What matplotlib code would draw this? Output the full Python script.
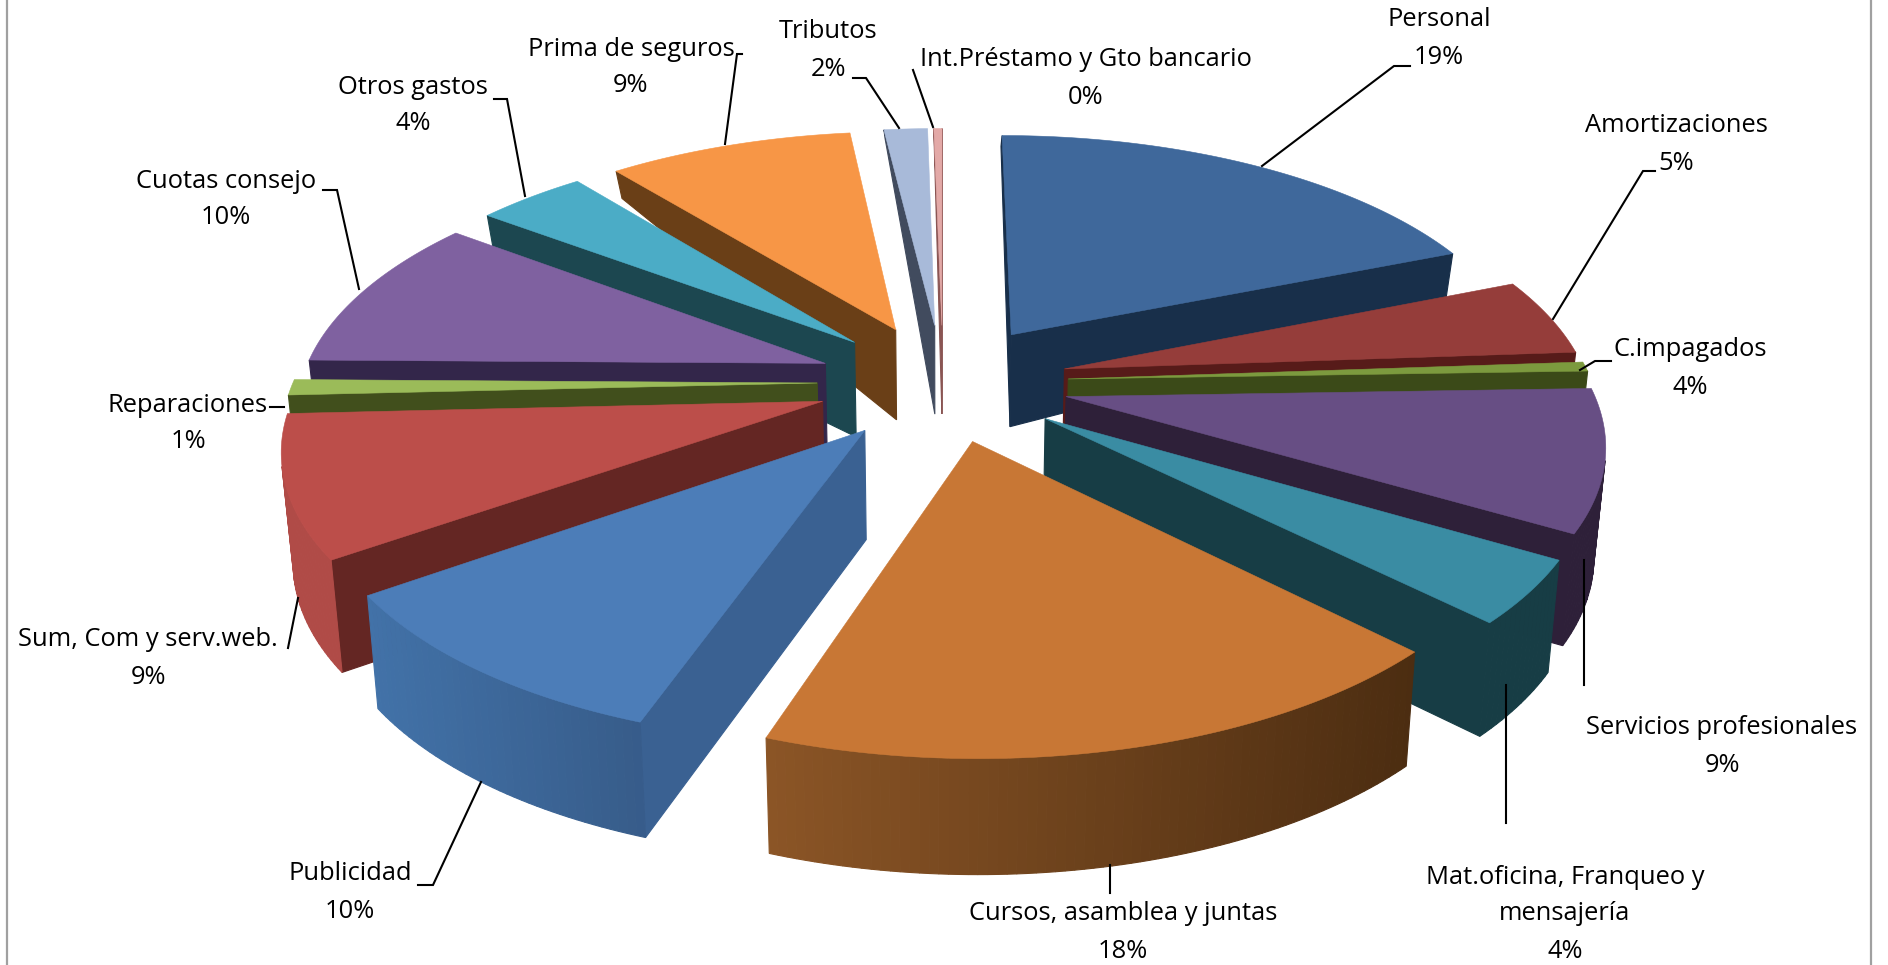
import numpy as np
import matplotlib
matplotlib.use("Agg")
import matplotlib.pyplot as plt
from matplotlib.colors import to_rgb

plt.rcParams['font.family'] = ['Open Sans', 'DejaVu Sans']

# ---- data -----------------------------------------------------------------
categories = ["Personal", "Amortizaciones", "C.impagados", "Servicios profesionales",
              "Mat.oficina, Franqueo y\nmensajería", "Cursos, asamblea y juntas", "Publicidad",
              "Sum, Com y serv.web.", "Reparaciones", "Cuotas consejo", "Otros gastos",
              "Prima de seguros", "Tributos", "Int.Préstamo y Gto bancario"]
slice_values = [19, 5, 0.6, 9, 4, 18, 10, 9, 1, 10, 4, 9, 1.6, 0.3]     # size of the drawn slices
label_percent = [19, 5, 4, 9, 4, 18, 10, 9, 1, 10, 4, 9, 2, 0]          # printed percentages

top_colors = ["#3F689B", "#953D3A", "#7C9A3E", "#674E84", "#3A8CA3", "#C87735", "#4C7DB8",
              "#BC4E4A", "#9BBB59", "#7F61A0", "#4BACC6", "#F79646", "#A8BAD9", "#E3A9A7"]
radial_colors = ["#182F4A", "#571B19", "#3B4A18", "#2E2039", "#173D45", "#4E2E12", "#3A6192",
                 "#642623", "#414F1C", "#33264A", "#1C4750", "#6A3F17", "#414B5E", "#8A5553"]
outer_start = ["#182F4A", "#571B19", "#3B4A18", "#2E2039", "#173D45", "#8B5526", "#4272A8",
               "#B04B47", "#5A7030", "#4A3862", "#2A6C7E", "#A9642C", "#5A6880", "#9A6664"]
outer_end = ["#182F4A", "#571B19", "#3B4A18", "#2E2039", "#173D45", "#4C2D11", "#375C8A",
             "#B04B47", "#5A7030", "#4A3862", "#2A6C7E", "#A9642C", "#5A6880", "#9A6664"]

# label layout (pixel anchors)
label_xy = [(1439, 20), (1676, 126), (1690, 350), (1722, 728), (1565, 877), (1123, 914), (350, 874),
            (148, 640), (188, 405), (226, 181), (413, 87), (631, 49), (828, 32), (1086, 60)]
leaders = [[(1262, 166), (1394, 66), (1410, 66)],
           [(1553, 319), (1643, 171), (1655, 171)],
           [(1580, 370), (1595, 361), (1611, 361)],
           [(1584, 560), (1584, 685)],
           [(1506, 685), (1506, 823)],
           [(1110, 865), (1110, 893)],
           [(481, 782), (433, 885), (418, 885)],
           [(298, 598), (288, 648)],
           [(284, 407), (270, 407)],
           [(359, 289), (337, 190), (323, 190)],
           [(525, 196), (507, 99), (494, 99)],
           [(725, 144), (737, 54), (742, 54)],
           [(899, 128), (866, 78), (853, 78)],
           [(933, 127), (913, 70)]]

# ---- view geometry --------------------------------------------------------
CX, CY = 943, 382       # pie centre on the page
RX, RY = 524, 245       # radii on the page
PERSP = 0.16            # perspective strength
H0 = 108                # height of the pie
EXPLODE = 0.24          # how far slices are pulled out
CONVERGE = 0.018        # verticals lean towards the centre going down


def project(X, Y, Z=0.0):
    w = 1 + PERSP * Y
    height = H0 * (1 - 0.75 * max(Y, 0)) if Y > 0 else H0 * (1 - 0.06 * Y)
    return (CX + RX * X / w * (1 - CONVERGE * Z), CY - RY * Y / w + Z * height)


def shoelace(q):
    a = 0.0
    for i in range(len(q)):
        x0, y0 = q[i]
        x1, y1 = q[(i + 1) % len(q)]
        a += x0 * y1 - x1 * y0
    return a


fig = plt.figure(figsize=(18.88, 9.65), dpi=100)
ax = fig.add_axes([0, 0, 1, 1])
ax.set_xlim(0, 1888)
ax.set_ylim(965, 0)
ax.axis('off')

# frame (open at the top and the bottom)
ax.plot([6.5, 6.5], [0, 965], color="#A0A0A0", lw=1.6)
ax.plot([1871, 1871], [0, 965], color="#A0A0A0", lw=1.6)

fractions = np.array(slice_values, dtype=float)
fractions = fractions / fractions.sum() * 2 * np.pi
edges = np.concatenate([[0], np.cumsum(fractions)])

order = sorted(range(len(fractions)), key=lambda i: -np.cos((edges[i] + edges[i + 1]) / 2))
for i in order:
    t0, t1 = edges[i], edges[i + 1]
    tm = (t0 + t1) / 2
    ox, oy = EXPLODE * np.sin(tm), EXPLODE * np.cos(tm)
    ts = np.linspace(t0, t1, max(3, int((t1 - t0) / 0.015)))
    rim = [(ox + np.sin(t), oy + np.cos(t)) for t in ts]
    apex = (ox, oy)
    c0, c1 = np.array(to_rgb(outer_start[i])), np.array(to_rgb(outer_end[i]))
    z = 10 + order.index(i) * 3

    def wall(u, v, col):
        q = [project(*u), project(*v), project(*v, 1), project(*u, 1)]
        if shoelace(q) < 0:
            ax.fill(*zip(*q), color=col, lw=0.8, zorder=z)

    wall(apex, rim[0], radial_colors[i])
    wall(rim[-1], apex, radial_colors[i])
    n = len(rim) - 1
    xs = [project(*p)[0] for p in rim]
    lo, hi = min(xs), max(xs)
    for k in range(n):
        f = (0.5 * (xs[k] + xs[k + 1]) - lo) / max(hi - lo, 1)
        wall(rim[k], rim[k + 1], tuple(c0 * (1 - f) + c1 * f))
    top = [project(*apex)] + [project(*p) for p in rim]
    ax.fill(*zip(*top), color=top_colors[i], lw=0.4, zorder=z + 1)

# labels and leaders
FS = 18.4
LINE = 37
for name, pct, (x, y), pts in zip(categories, label_percent, label_xy, leaders):
    lines = name.split("\n") + [f"{pct}%"]
    for j, s in enumerate(lines):
        ax.text(x, y + j * LINE, s, ha='center', va='center', fontsize=FS, color="#000000", zorder=100)
    ax.plot(*zip(*pts), color="#000000", lw=1.5, zorder=99, solid_joinstyle='miter')

fig.savefig("out.png", dpi=100, facecolor="white")
